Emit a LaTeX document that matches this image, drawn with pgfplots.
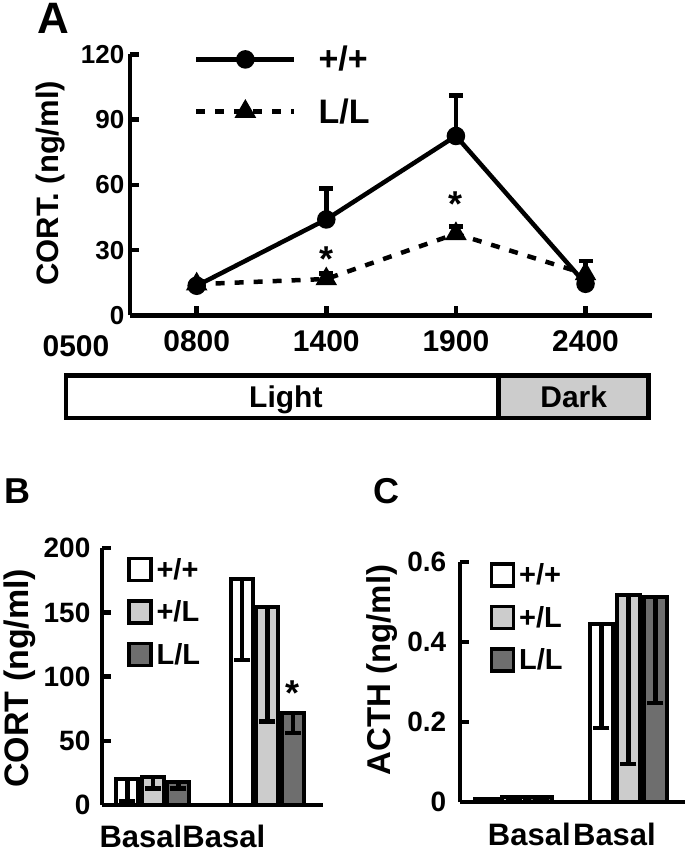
\documentclass[border=0pt]{standalone}
\usepackage{pgfplots}
\pgfplotsset{compat=1.18}
\usepackage{fontspec}
\setmainfont{Liberation Sans}
\definecolor{lgray}{HTML}{CCCCCC}
\definecolor{dgray}{HTML}{6E6E6E}
\newcommand{\fs}[1]{\fontsize{#1}{#1}\selectfont\bfseries}

\begin{document}
\begin{tikzpicture}[x=1pt,y=1pt]
\path (0,0) rectangle (687,-853);

\pgfplotsset{
  panel/.style={
    scale only axis,
    axis x line*=bottom, axis y line*=left,
    /tikz/line width=4.5pt,
    axis line style={line width=4.5pt},
    every outer x axis line/.append style={line width=4.5pt},
    every outer y axis line/.append style={line width=4.5pt},
    tick align=inside, major tick length=9pt,
    every tick/.append style={line width=4.5pt, black},
    major tick style={line width=4.5pt, black},
    xtick style={line width=4.5pt, black},
    ytick style={line width=4.5pt, black},
    /pgf/number format/assume math mode=true,
    clip=false,
  },
}

% ---------------- Panel A ----------------
\begin{axis}[panel, at={(130pt,-315pt)}, anchor=south west, width=522pt, height=261pt,
  xmin=0.485, xmax=4.51, ymin=0, ymax=120,
  xtick={1,2,3,4}, xticklabels={0800,1400,1900,2400},
  ytick={0,30,60,90,120},
  x tick label style={font=\fs{30}, yshift=-10pt},
  y tick label style={font=\fs{26}},
  ylabel={CORT. (ng/ml)},
  ylabel style={at={(axis description cs:-0.153,0.506)}, anchor=center, font=\fs{31}},
  legend style={at={(0.113,1.055)}, anchor=north west, draw=none, fill=none,
    font=\fs{34}, row sep=22pt, /tikz/every odd column/.append style={column sep=20pt}},
  legend cell align=left,
  legend image code/.code={\draw[mark repeat=2,mark phase=2,#1] plot coordinates {(0pt,0pt) (49pt,0pt) (98pt,0pt)};},
]
\addplot[black, line width=4.5pt, mark=*, mark size=7pt,
  error bars/.cd, y dir=plus, y explicit,
  error bar style={line width=4.5pt, black, solid},
  error mark options={rotate=90, line width=4.5pt, mark size=7pt, black, solid}]
  coordinates {(1,13.6) +- (0,1.5) (2,44.1) +- (0,14.2) (3,82.5) +- (0,18.5) (4,14.5) +- (0,2)};
\addplot[black, line width=4.5pt, dash pattern=on 9pt off 10pt, mark=triangle*, mark size=8pt, mark options={solid},
  error bars/.cd, y dir=plus, y explicit,
  error bar style={line width=4.5pt, black, solid},
  error mark options={rotate=90, line width=4.5pt, mark size=7pt, black, solid}]
  coordinates {(1,14.3) +- (0,1.5) (2,16.7) +- (0,2.5) (3,37.5) +- (0,3.4) (4,19) +- (0,6)};
\legend{+/+, L/L}
\node[font=\fs{36}, yshift=-7pt] at (axis cs:2,29) {*};
\node[font=\fs{36}, yshift=-7pt] at (axis cs:3,54.5) {*};
\node[font=\fs{30}, yshift=-31pt] at (axis cs:0.069,0) {0500};
\end{axis}

% Light / Dark bar
\draw[line width=4.5pt, fill=white] (66,-375) rectangle (499,-418);
\draw[line width=4.5pt, fill=lgray] (499,-375) rectangle (649,-418);
\node[font=\fs{30}, anchor=base] at (286,-407) {Light};
\node[font=\fs{30}, anchor=base] at (574,-407) {Dark};

% panel letters
\node[font=\fs{44}] at (53,-18) {A};
\node[font=\fs{36}] at (18,-491) {B};
\node[font=\fs{36}] at (387,-491) {C};

% ---------------- Panel B ----------------
\begin{axis}[panel, at={(102pt,-805pt)}, anchor=south west, width=221pt, height=257pt,
  xmin=0.555, xmax=2.485, ymin=0, ymax=200,
  ytick={0,50,100,150,200},
  xtick={0.895,1.62}, xticklabels={Basal,Basal},
  major x tick style={draw=none},
  x tick label style={font=\fs{31}, yshift=-5pt},
  y tick label style={font=\fs{28}, xshift=-6pt},
  ylabel={CORT (ng/ml)},
  ylabel style={at={(axis description cs:-0.371,0.494)}, anchor=center, font=\fs{34}},
  ybar, bar width=22pt,
  legend style={at={(0.09,0.985)}, anchor=north west, draw=none, fill=none,
    font=\fs{29}, row sep=16pt, /tikz/every odd column/.append style={column sep=2pt}},
  legend cell align=left,
  legend image code/.code={\draw[#1, line width=3.5pt] (0pt,-11pt) rectangle (22pt,11pt);},
]
\addplot[draw=black, line width=4pt, fill=white, bar shift=-25.5pt,
  error bars/.cd, y dir=minus, y explicit,
  error bar style={line width=4.5pt, black},
  error mark options={rotate=90, line width=4.5pt, mark size=8pt, black}]
  coordinates {(1,20) -= (0,17) (2,176) -= (0,63)};
\addplot[draw=black, line width=4pt, fill=lgray, bar shift=0pt,
  error bars/.cd, y dir=minus, y explicit,
  error bar style={line width=4.5pt, black},
  error mark options={rotate=90, line width=4.5pt, mark size=8pt, black}]
  coordinates {(1,22) -= (0,9) (2,154) -= (0,89)};
\addplot[draw=black, line width=4pt, fill=dgray, bar shift=25.5pt,
  error bars/.cd, y dir=minus, y explicit,
  error bar style={line width=4.5pt, black},
  error mark options={rotate=90, line width=4.5pt, mark size=8pt, black}]
  coordinates {(1,18) -= (0,5) (2,71.5) -= (0,15.5)};
\legend{+/+, +/L, L/L}
\node[font=\fs{36}, yshift=-7pt] at (axis cs:2.22,92.5) {*};
\end{axis}

% ---------------- Panel C ----------------
\begin{axis}[panel, at={(460pt,-802pt)}, anchor=south west, width=225pt, height=240pt,
  xmin=0.528, xmax=2.49, ymin=0, ymax=0.6,
  ytick={0,0.2,0.4,0.6},
  yticklabels={0,0.2,0.4,0.6},
  xtick={1.135,1.878}, xticklabels={Basal,Basal},
  major x tick style={draw=none},
  x tick label style={font=\fs{31}, yshift=-6pt},
  y tick label style={font=\fs{28}, xshift=-8pt},
  ylabel={ACTH (ng/ml)},
  ylabel style={at={(axis description cs:-0.347,0.55)}, anchor=center, font=\fs{33}},
  ybar, bar width=23pt,
  legend style={at={(0.11,1.02)}, anchor=north west, draw=none, fill=none,
    font=\fs{29}, row sep=16pt, /tikz/every odd column/.append style={column sep=2pt}},
  legend cell align=left,
  legend image code/.code={\draw[#1, line width=3.5pt] (0pt,-11pt) rectangle (22pt,11pt);},
]
\addplot[draw=black, line width=4pt, fill=white, bar shift=-27pt,
  error bars/.cd, y dir=minus, y explicit,
  error bar style={line width=4.5pt, black},
  error mark options={rotate=90, line width=4.5pt, mark size=8pt, black}]
  coordinates {(1,0.008) -= (0,0.004) (2,0.445) -= (0,0.26)};
\addplot[draw=black, line width=4pt, fill=lgray, bar shift=0pt,
  error bars/.cd, y dir=minus, y explicit,
  error bar style={line width=4.5pt, black},
  error mark options={rotate=90, line width=4.5pt, mark size=8pt, black}]
  coordinates {(1,0.013) -= (0,0.006) (2,0.518) -= (0,0.423)};
\addplot[draw=black, line width=4pt, fill=dgray, bar shift=27pt,
  error bars/.cd, y dir=minus, y explicit,
  error bar style={line width=4.5pt, black},
  error mark options={rotate=90, line width=4.5pt, mark size=8pt, black}]
  coordinates {(1,0.013) -= (0,0.006) (2,0.513) -= (0,0.265)};
\legend{+/+, +/L, L/L}
\end{axis}
\end{tikzpicture}
\end{document}
